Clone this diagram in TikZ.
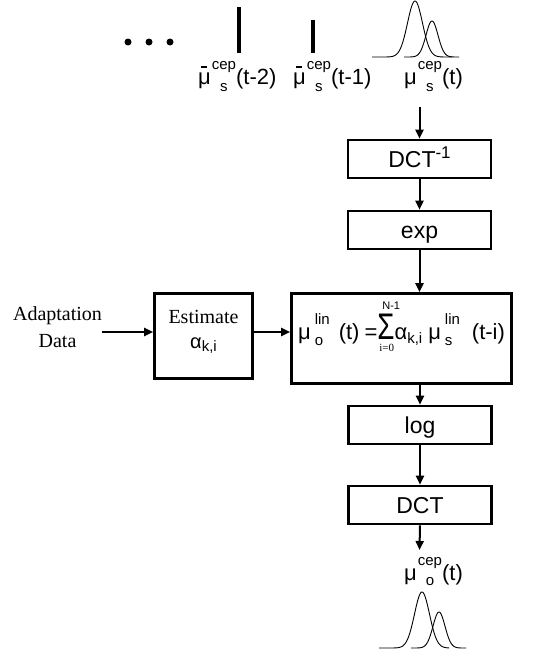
\documentclass[tikz,border=0pt]{standalone}
\usepackage{fontspec}
\usepackage{graphicx}
\setmainfont{Liberation Sans}
\newfontfamily\tms{Liberation Serif}
\usetikzlibrary{arrows.meta}
\newcommand\fsz[2]{\fontsize{#1}{#2}\selectfont}
\newcommand\sm{\fsz{15}{18}}
\newlength\sslen
\newcommand\SSl[4]{\setbox0\hbox{#3}\setbox2\hbox{#4}%
  \ifdim\wd0>\wd2 \sslen=\wd0 \else\sslen=\wd2 \fi
  \rlap{\raisebox{#1}{\box0}}\rlap{\raisebox{-#2}{\box2}}\hspace*{\sslen}}
\newcommand\SSc[4]{\setbox0\hbox{#3}\setbox2\hbox{#4}%
  \ifdim\wd0>\wd2 \sslen=\wd0 \else\sslen=\wd2 \fi
  \rlap{\makebox[\sslen]{\raisebox{#1}{\box0}}}\rlap{\makebox[\sslen]{\raisebox{-#2}{\box2}}}\hspace*{\sslen}}
\newcommand\mub{\rlap{\hspace{2.5pt}\raisebox{16.5pt}{\rule{6pt}{1.4pt}}}μ}
\newcommand\sumstack{\rlap{\hspace{5pt}\raisebox{30pt}{\fsz{11}{13}N-1}}\rlap{\hspace{2pt}\raisebox{-12pt}{\tms\fsz{11}{13}i=0}}\scalebox{0.75}[1]{\fsz{37}{37}Σ}}
\begin{document}
\begin{tikzpicture}[x=1pt,y=-1pt,
  box/.style={draw, line width=2.6pt, inner sep=0pt, minimum width=143pt, minimum height=38pt, text height=16pt, text depth=0pt, font=\fsz{23}{27}},
  arr/.style={line width=2pt, -{Triangle[length=9pt,width=8pt]}},
  gauss/.style={line width=0.9pt},
  lbl/.style={inner sep=0pt, anchor=base west, font=\fsz{22}{26}},
  dotmark/.style={circle, fill, inner sep=0pt, minimum size=7pt},
  barmark/.style={fill, inner sep=0pt, minimum width=4pt},
]
\useasboundingbox (0,0) rectangle (551,653);
% top sequence
\node[dotmark] (d1) at (128,42) {};
\node[dotmark] (d2) at (149,42) {};
\node[dotmark] (d3) at (170,42) {};
\node[barmark, minimum height=46pt] (b1) at (239,30) {};
\node[barmark, minimum height=33pt] (b2) at (313,36.5) {};
\draw[gauss] plot[domain=372:452, samples=90] (\x, {57-56*exp(-((\x-415)^2)/(2*7.5^2))});
\draw[gauss] plot[domain=404:459, samples=90] (\x, {57-36*exp(-((\x-432)^2)/(2*6^2))});
\node[lbl] (l1) at (198,84) {\mub\hspace{1pt}\SSc{15pt}{7pt}{\sm cep}{\sm s}(t-2)};
\node[lbl] (l2) at (293,84) {\mub\hspace{1pt}\SSc{15pt}{7pt}{\sm cep}{\sm s}(t-1)};
\node[lbl] (l3) at (404,84) {μ\hspace{1pt}\SSc{15pt}{7pt}{\sm cep}{\sm s}(t)};
\coordinate (intop) at (419.5,107);
% chain
\node[box] (dctinv) at (419.5,159) {DCT\raisebox{9pt}{\fsz{17}{20}-1}};
\node[box] (exp) at (419.5,230) {exp};
\node[box, minimum width=220pt, minimum height=90pt, text height=20pt, text depth=19pt, font=\fsz{22}{26}] (sum) at (401.5,338.5)
 {μ\hspace{4pt}\SSl{15pt}{6pt}{\sm lin}{\sm o}\hspace{9pt}(t)\hspace{5pt}=\sumstack α\raisebox{-4pt}{\fsz{15}{18}k,i}\hspace{6pt}μ\hspace{4pt}\SSl{15pt}{6pt}{\sm lin}{\sm s}\hspace{12pt}(t-i)};
\node[box] (log) at (420,425) {log};
\node[box] (dct) at (420,505) {DCT};
\node[box, minimum width=98pt, minimum height=85pt, text height=13pt, text depth=39pt, font=\fsz{20}{24}] (est) at (203.5,336)
 {\begin{tabular}[t]{@{}c@{}}\tms Estimate\\[1pt] α\raisebox{-3pt}{\fsz{15}{18}k,i}\end{tabular}};
\node[inner sep=0pt, align=center, font=\tms\fsz{20}{27}] (adapt) at (57.5,326.7) {Adaptation\\Data};
\coordinate (ay) at (0,332);
\coordinate (outtip) at (419.5,550);
\node[lbl] (outlbl) at (404,580) {μ\hspace{1pt}\SSc{15pt}{5pt}{\sm cep}{\sm o}(t)};
\draw[gauss] plot[domain=379:449, samples=90] (\x, {648-56*exp(-((\x-422)^2)/(2*7.5^2))});
\draw[gauss] plot[domain=411:466, samples=90] (\x, {648-36*exp(-((\x-439)^2)/(2*6^2))});
% connectors
\draw[arr] (intop) -- (dctinv.north);
\draw[arr] (dctinv.south) -- (exp.north);
\draw[arr] (exp.south) -- (exp.south |- sum.north);
\draw[arr] (sum.south -| log.north) -- (log.north);
\draw[arr] (log.south) -- (dct.north);
\draw[arr] (dct.south) -- (outtip);
\draw[arr] (adapt.east |- ay) -- (est.west |- ay);
\draw[arr] (est.east |- ay) -- (sum.west |- ay);
\end{tikzpicture}
\end{document}
